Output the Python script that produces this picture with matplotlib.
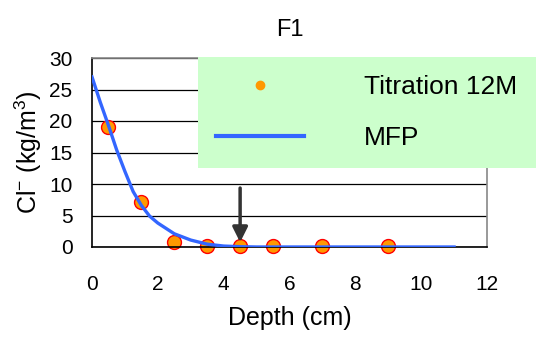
import matplotlib
matplotlib.use('Agg')
import matplotlib.pyplot as plt
from matplotlib.lines import Line2D

plt.rcParams['font.family'] = ['Liberation Sans', 'DejaVu Sans']
plt.rcParams['mathtext.fontset'] = 'custom'
plt.rcParams['mathtext.rm'] = 'Liberation Sans'
plt.rcParams['mathtext.it'] = 'Liberation Sans'

# Titration 12M measurements
depth_pts = [0.5, 1.5, 2.5, 3.5, 4.5, 5.5, 7, 9]
cl_pts = [19, 7.2, 0.8, 0.1, 0.1, 0.1, 0.1, 0.1]

# MFP model curve
depth_mfp = [0, 0.25, 0.5, 0.75, 1, 1.25, 1.5, 1.75, 2, 2.5, 3, 3.5, 4, 4.5, 5, 6, 7, 8, 9, 10, 11]
cl_mfp = [27, 23, 19.3, 15.4, 12, 8.8, 6.6, 4.9, 3.8, 2.1, 1.1, 0.45, 0.15, 0.05, 0, 0, 0, 0, 0, 0, 0]

fig = plt.figure(figsize=(5.36, 3.38), dpi=100)
ax = fig.add_axes([92/536, 1 - 247/338, 395/536, 189/338])

ax.plot(depth_mfp, cl_mfp, color='#3366ff', lw=2.4, zorder=3)
ax.plot(depth_pts, cl_pts, 'o', ms=10, mfc='#ff9900', mec='#ff0000', mew=1.0,
        zorder=2, clip_on=False)

# arrow marking depth
ax.annotate('', xy=(4.5, 0.3), xytext=(4.5, 9.8),
            arrowprops=dict(arrowstyle='-|>,head_width=0.45,head_length=0.9',
                            color='#333333', lw=2.5), zorder=4)

ax.set_xlim(0, 12)
ax.set_ylim(0, 30)
ax.set_xticks(range(0, 13, 2))
ax.set_yticks(range(0, 31, 5))
ax.tick_params(axis='x', length=0, labelsize=15, pad=20)
ax.tick_params(axis='y', length=0, labelsize=15, pad=14)
ax.yaxis.grid(True, color='black', lw=0.9)
ax.set_axisbelow(True)
for s in ['top', 'right']:
    ax.spines[s].set_color('#888888')
    ax.spines[s].set_linewidth(1.2)
for s in ['left', 'bottom']:
    ax.spines[s].set_color('black')
    ax.spines[s].set_linewidth(1.2)

ax.set_title('F1', fontsize=17, pad=16)
ax.set_xlabel('Depth (cm)', fontsize=18, labelpad=9)
ax.set_ylabel(r'Cl$^{-}$ (kg/m$^{3}$)', fontsize=18, labelpad=4)

handles = [Line2D([], [], ls='none', marker='o', ms=6, mfc='#ff9900', mec='#ff9900'),
           Line2D([], [], color='#3366ff', lw=3)]
leg = ax.legend(handles, ['Titration 12M', 'MFP'], loc='upper left',
                bbox_to_anchor=(198/536, 1 - 161/338, 338/536, 104/338),
                bbox_transform=fig.transFigure, mode='expand', fontsize=19,
                frameon=True, fancybox=False, borderaxespad=0, borderpad=0.7,
                handlelength=3.3, handletextpad=2.3, labelspacing=1.0)
leg.get_frame().set_facecolor('#ccffcc')
leg.get_frame().set_edgecolor('none')
leg.get_frame().set_alpha(1)
leg.set_zorder(10)

fig.savefig('out.png', dpi=100)
